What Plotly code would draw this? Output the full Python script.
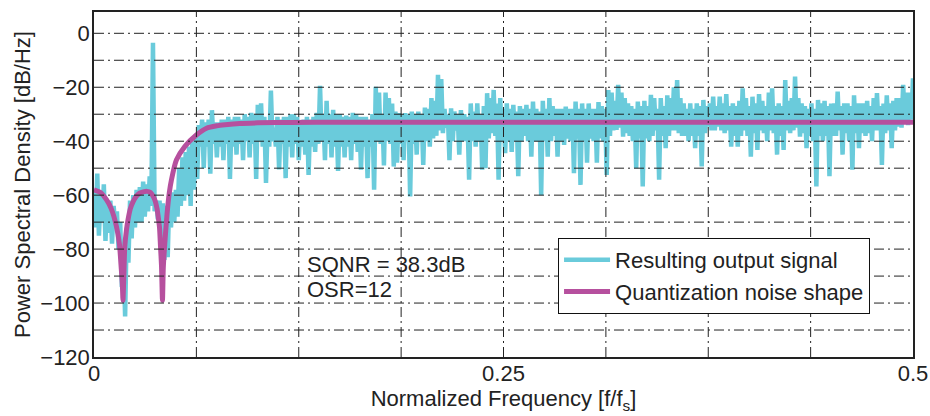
import plotly.graph_objects as go

# ---------------- data ----------------
# PSD bins of the output signal, 0.001 apart in normalized frequency.
# Even bins (f = 0, 0.002, ... 0.5) and odd bins (f = 0.001, 0.003, ... 0.499)
# are listed separately.
bin_step = 0.001
psd_even_bins = [
    -58, -52, -60, -56, -62, -62, -64, -66, -70, -82,
    -72, -62, -60, -58, -57, -55, -56, -53, -3.5, -62,
    -62, -63, -64, -60, -59, -58, -50, -46, -44, -42,
    -40, -38, -34, -32, -33, -32, -28.5, -33, -33, -32,
    -32, -31, -32, -31, -31, -32, -30, -31, -29.5, -30,
    -26.5, -26, -31, -34, -21.2, -35, -31, -32, -31, -31,
    -30, -30, -31, -33, -32, -31, -32, -31, -29.5, -19.5,
    -30, -25, -30, -28.4, -30, -30, -31, -30.5, -31, -29.5,
    -30, -31, -31, -31, -32, -30, -19.8, -22, -30, -22,
    -24, -26, -29, -29.6, -30, -29.6, -30, -29, -30, -29,
    -30, -27.5, -28, -24, -25, -15.4, -17, -28, -30, -27.8,
    -29, -30, -28.5, -30, -31, -26, -29, -26, -30, -27,
    -22.2, -24, -21, -26, -24, -28, -26, -28, -26.5, -29,
    -27, -28, -26.5, -28, -25.3, -28, -29, -25, -28, -24,
    -27, -28, -28, -28, -27.2, -28, -28, -25.3, -28, -26,
    -28, -26, -28, -28, -25.5, -27, -28, -21, -22, -25,
    -19.1, -22, -24, -26, -27, -28, -25.3, -27, -25, -27,
    -22.8, -24, -28, -24, -27, -23, -24, -20, -17.3, -24,
    -26, -28, -26, -28, -26, -27, -24.7, -27, -26, -23.5,
    -27, -23.5, -26, -22.5, -27, -26, -27, -25, -20.4, -24,
    -27, -23.5, -26, -22.5, -25, -27, -22, -20.4, -27, -26,
    -27, -17.3, -25, -24, -16, -24, -26, -27, -28, -26,
    -28, -24.7, -26, -25, -27, -26, -26, -21.6, -27, -26,
    -26, -27, -23, -26, -26, -26, -25, -27, -24, -22.2,
    -27, -26, -23, -26, -25, -24, -24, -19.1, -22, -22,
    -16.7,
]
psd_odd_bins = [
    -72, -75, -70, -77, -74, -78, -72, -80, -94, -105,
    -85, -76, -72, -70, -70, -68, -66, -64, -66, -69,
    -72, -84, -83, -72, -70, -68, -64, -62, -60, -64,
    -58, -54, -42, -50, -42, -52, -41, -46, -42, -47,
    -41, -54, -42, -45, -41, -47, -40, -46, -41, -54,
    -40, -42, -55.5, -42, -40, -42, -50.5, -41, -53.7, -42,
    -46, -41, -47, -42, -45, -52.5, -42, -44, -41, -40,
    -47, -41, -46, -42, -51, -42, -46, -42, -47, -41,
    -44, -50.6, -42, -53.7, -42, -58, -40, -41, -49, -40,
    -41, -49.4, -48, -41, -47, -40, -60.5, -41, -45, -40,
    -48.8, -40, -42, -39, -38, -36, -37, -35, -47, -40,
    -36, -45, -40, -40, -54.3, -40, -42, -40, -50.6, -50,
    -39, -37, -38, -54.3, -40, -44.4, -40, -44, -40, -53,
    -40, -38, -40, -45.7, -40, -40, -60, -40, -45.7, -40,
    -38, -45.7, -40, -41.4, -39, -40, -51.9, -39, -56.2, -40,
    -48, -39, -40, -48, -39, -40, -52.5, -38, -36, -35.8,
    -35, -38.3, -37, -38, -40, -50, -39, -56.8, -39, -40,
    -38, -36, -54.3, -38, -42.6, -38, -36, -36, -37, -38,
    -38, -40, -38, -42.6, -38, -49.4, -37, -34.6, -36, -36,
    -34.6, -36, -37, -36, -42, -38, -42, -38, -36, -38,
    -45.7, -37, -43.2, -36, -37, -40, -36, -37, -45, -38,
    -43.2, -36, -37, -36, -35, -38.3, -37, -42.6, -38, -40,
    -56.8, -38, -40, -38, -53, -38, -38, -36, -45, -37,
    -40, -50.6, -37, -42.6, -37, -38, -37, -40, -36, -36,
    -48.8, -37, -36, -42.6, -36, -34.6, -35, -33, -34, -32,
]

output_psd = []
for k in range(len(psd_even_bins)):
    output_psd.append(psd_even_bins[k])
    if k < len(psd_odd_bins):
        output_psd.append(psd_odd_bins[k])
output_freq = [round(k * bin_step, 4) for k in range(len(output_psd))]

ntf_freq = [0, 0.004, 0.0076, 0.0105, 0.0137, 0.0155, 0.0167, 0.0173, 0.0177,
            0.0181, 0.0188, 0.0198, 0.0208, 0.0222, 0.0239, 0.026, 0.028, 0.030,
            0.0324, 0.0345, 0.0362, 0.0371, 0.0385, 0.0392, 0.0400, 0.0406,
            0.0412, 0.0418, 0.0423, 0.0432, 0.0446, 0.046, 0.0473, 0.0503,
            0.0554, 0.0625, 0.0687, 0.075, 0.08, 0.089, 0.1, 0.12, 0.15, 0.2,
            0.3, 0.4, 0.5]
ntf_psd = [-58, -59, -61.7, -65, -71.6, -78, -87.7, -93, -99,
           -92, -79, -73, -69, -65, -62.4, -60.3, -59.2, -58.8,
           -58.6, -59, -60.5, -61.7, -65, -68, -72, -79,
           -86, -99, -87, -78, -67, -59, -54.3, -47,
           -42, -37.7, -35.2, -34.3, -33.9, -33.4, -33.2, -33.05, -33, -33,
           -33, -33, -33]

x_grid = [0, 0.0625, 0.125, 0.1875, 0.25, 0.3125, 0.375, 0.4375, 0.5]
x_labels = ["0", "", "", "", "0.25", "", "", "", "0.5"]
y_grid = [-120, -110, -100, -90, -80, -70, -60, -50, -40, -30, -20, -10, 0]
y_labels = ["\u2212120", "", "\u2212100", "", "\u221280", "", "\u221260", "",
            "\u221240", "", "\u221220", "", "0"]

series_names = ["Resulting output signal", "Quantization noise shape"]
note_lines = ["SQNR = 38.3dB", "OSR=12"]

# ---------------- figure ----------------
FONT = "Liberation Sans, Arial, Helvetica, sans-serif"
CYAN = "#6ACBDB"
MAGENTA = "#B6509E"
AX = "#222222"

fig = go.Figure()
fig.add_trace(go.Scatter(x=output_freq, y=output_psd, mode="lines",
                         name=series_names[0],
                         line=dict(color=CYAN, width=4.5)))
fig.add_trace(go.Scatter(x=ntf_freq, y=ntf_psd, mode="lines",
                         name=series_names[1],
                         line=dict(color=MAGENTA, width=5, shape="spline",
                                   smoothing=0.6)))

dash = "10px,4px,2px,4px"
for xv in x_grid[1:-1]:
    fig.add_shape(type="line", xref="x", yref="paper", x0=xv, x1=xv, y0=0, y1=1,
                  line=dict(color=AX, width=1, dash=dash), layer="above")
for yv in y_grid[1:]:
    fig.add_shape(type="line", xref="paper", yref="y", x0=0, x1=1, y0=yv, y1=yv,
                  line=dict(color=AX, width=1, dash=dash), layer="above")

fig.add_annotation(x=0.1287, y=-85.7, text=note_lines[0], showarrow=False,
                   xanchor="left", yanchor="middle",
                   font=dict(family=FONT, size=22, color="#222"))
fig.add_annotation(x=0.1287, y=-95, text=note_lines[1], showarrow=False,
                   xanchor="left", yanchor="middle",
                   font=dict(family=FONT, size=22, color="#222"))

fig.update_layout(
    width=930, height=416,
    margin=dict(l=94, r=17, t=12, b=59),
    paper_bgcolor="white", plot_bgcolor="white",
    font=dict(family=FONT, size=22, color="#222"),
    showlegend=True,
    legend=dict(x=0.5666, y=0.345, xanchor="left", yanchor="top",
                bgcolor="white", bordercolor="#111", borderwidth=1,
                font=dict(family=FONT, size=22, color="#222"),
                itemwidth=46, tracegroupgap=0),
    xaxis=dict(range=[0, 0.5], tickvals=x_grid, ticktext=x_labels,
               showgrid=False, zeroline=False, showline=True, mirror=True,
               linecolor=AX, linewidth=1.5, ticks="", automargin=False,
               ticklabelstandoff=-4,
               layer="above traces", tickfont=dict(size=22),
               title=dict(text="Normalized Frequency [f/f<sub>s</sub>]",
                          font=dict(size=22), standoff=2)),
    yaxis=dict(range=[-120, 7.9], tickvals=y_grid, ticktext=y_labels,
               showgrid=False, zeroline=False, showline=True, mirror=True,
               linecolor=AX, linewidth=1.5, ticks="", automargin=False,
               ticklabelstandoff=-2,
               layer="above traces", tickfont=dict(size=22),
               title=dict(text="Power Spectral Density [dB/Hz]",
                          font=dict(size=22), standoff=4)),
)

fig.write_html("out.html")
